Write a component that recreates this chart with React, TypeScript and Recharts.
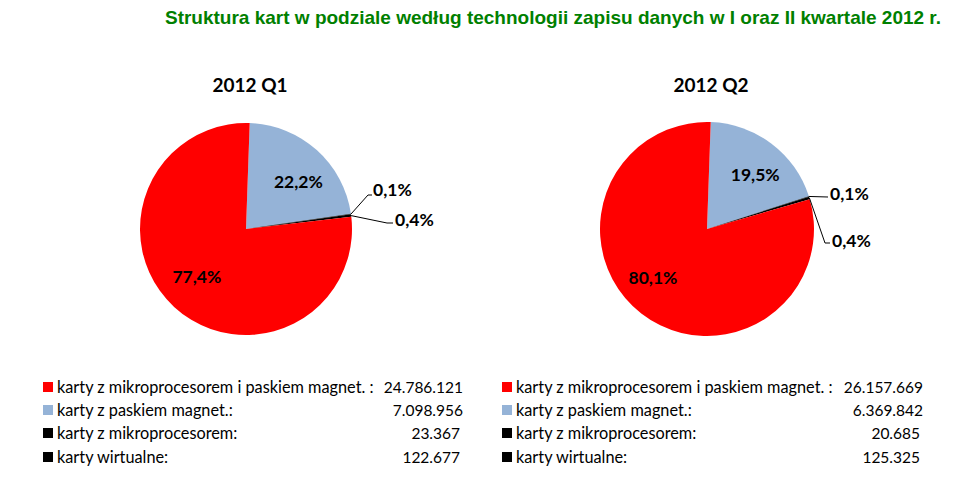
import React from "react";
import { PieChart, Pie, Cell } from "recharts";

const categories = [
  "karty z mikroprocesorem i paskiem magnet. :",
  "karty z paskiem magnet.:",
  "karty z mikroprocesorem:",
  "karty wirtualne:",
];
const q1Values = [24786121, 7098956, 23367, 122677];
const q2Values = [26157669, 6369842, 20685, 125325];
const periods = ["2012 Q1", "2012 Q2"];
const title =
  "Struktura kart w podziale według technologii zapisu danych w I oraz II kwartale 2012 r.";

const colors = ["#FF0000", "#95B3D7", "#000000", "#000000"];
const pieOrder = [1, 2, 3, 0];
const FONT = "Lato, 'Noto Sans', sans-serif";

const fmtNum = (v: number) => String(v).replace(/\B(?=(\d{3})+(?!\d))/g, ".");
const fmtPct = (p: number) => (p * 100).toFixed(1).replace(".", ",") + "%";

type Pt = [number, number];
interface SmallLabel {
  line: Pt[];
  text: Pt;
}
// layout offsets (relative to pie centre) for small-slice labels
const smallLabelLayout: Record<string, SmallLabel>[] = [
  {
    "2": { line: [[122, -34], [126, -34]], text: [127, -40] },
    "3": { line: [[141, -6], [147, -6]], text: [149, -10] },
  },
  {
    "2": { line: [[121, -32]], text: [123, -36] },
    "3": { line: [[118, 14], [123, 14]], text: [125, 11] },
  },
];
// small nudges for inside labels (per chart, per category)
const insideNudge: Record<string, Pt>[] = [
  { "0": [-1, -5], "1": [5, 5] },
  { "0": [-10, -8], "1": [5, 3] },
];

const RAD = Math.PI / 180;

const makeLabel = (chartIdx: number) => (props: any) => {
  const { cx, cy, midAngle, outerRadius, percent, payload } = props;
  const idx = payload.catIndex as number;
  if (idx === 2 || idx === 3) {
    const lay = smallLabelLayout[chartIdx][String(idx)];
    const ex = cx + outerRadius * Math.cos(-midAngle * RAD);
    const ey = cy + outerRadius * Math.sin(-midAngle * RAD);
    const pts = [[ex, ey], ...lay.line.map(([dx, dy]) => [cx + dx, cy + dy])]
      .map((p) => p.join(","))
      .join(" ");
    return (
      <g key={"lbl" + idx}>
        <polyline points={pts} fill="none" stroke="#000" strokeWidth={1} />
        <text
          x={cx + lay.text[0]}
          y={cy + lay.text[1]}
          dominantBaseline="central"
          textAnchor="start"
          fontFamily={FONT}
          fontWeight="bold"
          fontSize={17.5}
          fill="#000"
        >
          {fmtPct(percent)}
        </text>
      </g>
    );
  }
  const r = outerRadius * 0.67;
  const n = insideNudge[chartIdx][String(idx)];
  const x = cx + r * Math.cos(-midAngle * RAD) + n[0];
  const y = cy + r * Math.sin(-midAngle * RAD) + n[1];
  return (
    <text
      key={"lbl" + idx}
      x={x}
      y={y}
      textAnchor="middle"
      dominantBaseline="central"
      fontFamily={FONT}
      fontWeight="bold"
      fontSize={17.5}
      fill="#000"
    >
      {fmtPct(percent)}
    </text>
  );
};

const buildData = (values: number[]) =>
  pieOrder.map((i) => ({ name: categories[i], value: values[i], catIndex: i }));

const pies = [
  { values: q1Values, cx: 246, cy: 229, r: 106, legendX: 43, valueRight: 463 },
  { values: q2Values, cx: 707, cy: 229, r: 107, legendX: 502, valueRight: 923 },
];

const legendRowsY = [387, 410, 433, 457];

export default function App() {
  return (
    <div
      style={{
        position: "absolute",
        left: 0,
        top: 0,
        width: 960,
        height: 496,
        background: "#fff",
        fontFamily: FONT,
      }}
    >
      <div
        style={{
          position: "absolute",
          left: 0,
          width: 941,
          top: 6,
          textAlign: "right",
          fontFamily: "'Liberation Sans', Arial, sans-serif",
          fontWeight: "bold",
          fontSize: 19,
          lineHeight: "24px",
          color: "#008000",
          whiteSpace: "nowrap",
        }}
      >
        {title}
      </div>
      {pies.map((p, k) => (
        <div
          key={"t" + k}
          style={{
            position: "absolute",
            left: p.cx - 100,
            width: 208,
            top: 73,
            textAlign: "center",
            fontWeight: "bold",
            fontSize: 19,
            lineHeight: "24px",
            color: "#000",
          }}
        >
          {periods[k]}
        </div>
      ))}
      <div style={{ position: "absolute", left: 0, top: 0 }}>
        <PieChart width={960} height={360} margin={{ top: 0, right: 0, bottom: 0, left: 0 }}>
          {pies.map((p, k) => (
            <Pie
              key={"pie" + k}
              data={buildData(p.values)}
              dataKey="value"
              nameKey="name"
              cx={p.cx}
              cy={p.cy}
              outerRadius={p.r}
              startAngle={88}
              endAngle={-272}
              stroke="none"
              isAnimationActive={false}
              labelLine={false}
              label={makeLabel(k)}
            >
              {pieOrder.map((i) => (
                <Cell key={"c" + i} fill={colors[i]} />
              ))}
            </Pie>
          ))}
        </PieChart>
      </div>
      {pies.map((p, k) =>
        categories.map((c, i) => (
          <div key={"lg" + k + "-" + i}>
            <div
              style={{
                position: "absolute",
                left: p.legendX,
                top: legendRowsY[i] - 5,
                width: 10,
                height: 10,
                background: colors[i],
              }}
            />
            <div
              style={{
                position: "absolute",
                left: p.legendX + 14,
                top: legendRowsY[i] - 10,
                fontSize: 16.3,
                lineHeight: "20px",
                color: "#000",
                whiteSpace: "nowrap",
              }}
            >
              {c}
            </div>
            <div
              style={{
                position: "absolute",
                left: p.valueRight - 200,
                width: 200 - (i >= 2 ? 3 : 0),
                top: legendRowsY[i] - 10,
                textAlign: "right",
                fontSize: 15.5,
                lineHeight: "20px",
                color: "#000",
                whiteSpace: "nowrap",
              }}
            >
              {fmtNum(p.values[i])}
            </div>
          </div>
        ))
      )}
    </div>
  );
}
